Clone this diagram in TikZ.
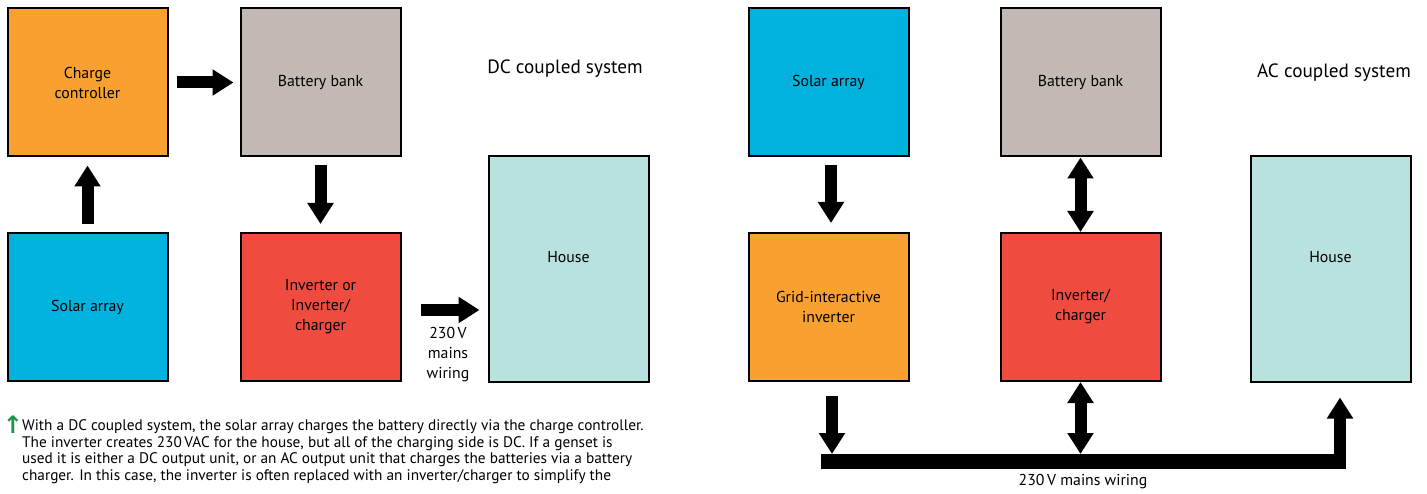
\documentclass[tikz,border=0pt]{standalone}
\usepackage{fontspec}
\setmainfont{PT Sans}
\newfontfamily\symfont{DejaVu Sans}
\usetikzlibrary{arrows.meta}
\definecolor{cOrange}{RGB}{248,160,48}
\definecolor{cGrey}{RGB}{194,185,181}
\definecolor{cRed}{RGB}{239,76,63}
\definecolor{cBlue}{RGB}{0,178,222}
\definecolor{cHouse}{RGB}{185,225,222}
\definecolor{cGreen}{RGB}{26,150,80}
\tikzset{
  box/.style={draw=black, line width=2pt, minimum width=160pt, minimum height=148pt, inner sep=0pt, align=center, font=\fontsize{15.8}{20}\selectfont},
  tallbox/.style={box, minimum height=225pt},
  bigarrow/.style={line width=12pt, -{Triangle[width=25pt,length=21pt]}},
  dblarrow/.style={line width=12pt, {Triangle[width=25pt,length=21pt]}-{Triangle[width=25pt,length=21pt]}},
  lbl/.style={font=\fontsize{15.8}{20}\selectfont, align=center, inner sep=0pt},
  titletext/.style={font=\fontsize{19.2}{22}\selectfont, inner sep=0pt},
  captext/.style={font=\fontsize{15.3}{16.5}\selectfont, align=left, inner sep=0pt, anchor=north west}
}
\begin{document}
\begin{tikzpicture}[x=1pt,y=-1pt]
\useasboundingbox[fill=white] (0,0) rectangle (1427,494);
% DC coupled
\node[box, fill=cOrange] (cc) at (87.5,82.5) {Charge\\controller};
\node[box, fill=cGrey] (bb1) at (320.5,82.5) {Battery bank};
\node[box, fill=cBlue] (sa1) at (87.5,307) {Solar array};
\node[box, fill=cRed] (inv1) at (320.5,307) {Inverter or\\Inverter/\\charger};
\node[tallbox, fill=cHouse] (h1) at (568.5,269) {};
\node[lbl] (h1l) at (568.5,257) {House};
\node[titletext] (dct) at (565,69) {DC coupled system};
\draw[bigarrow] ([xshift=8]cc.east) -- ([xshift=-6]bb1.west);
\draw[bigarrow] ([yshift=8]sa1.north) -- ([yshift=-8]cc.south);
\draw[bigarrow] ([yshift=-8]bb1.south) -- ([yshift=8]inv1.north);
\draw[bigarrow] ([xshift=19,yshift=-3]inv1.east) -- ([xshift=-8,yshift=-3]inv1.east -| h1.west);
\node[lbl] (mw1) at (448,355) {230\,V\\mains\\wiring};
% AC coupled
\node[box, fill=cBlue] (sa2) at (828.5,82.5) {Solar array};
\node[box, fill=cGrey] (bb2) at (1080.5,82.5) {Battery bank};
\node[box, fill=cOrange] (gi) at (828.5,307) {Grid-interactive\\inverter};
\node[box, fill=cRed] (inv2) at (1080.5,307) {Inverter/\\charger};
\node[tallbox, fill=cHouse] (h2) at (1330.5,269) {};
\node[lbl] (h2l) at (1330.5,257) {House};
\node[titletext] (act) at (1334,73) {AC coupled system};
\draw[bigarrow] ([xshift=2.5,yshift=-8]sa2.south) -- ([xshift=2.5,yshift=9]gi.north);
\draw[dblarrow] (bb2.south) -- (inv2.north);
\coordinate (barL) at (821,461.5);
\coordinate (barR) at (1346,461.5);
\draw[line width=15pt] (barL) -- (barR);
\draw[bigarrow] ([xshift=3.5,yshift=-14]gi.south) -- ([xshift=3.5,yshift=7.5]gi.south |- barL);
\draw[dblarrow] (inv2.south) -- ([yshift=7.5]inv2.south |- barL);
\draw[bigarrow] ([xshift=9.5]h2.south |- barR) -- ([xshift=9.5,yshift=-15]h2.south);
\node[lbl] (mw2) at (1083,482) {230\,V mains wiring};
% caption
\node[font=\symfont\bfseries\fontsize{24}{24}\selectfont, text=cGreen, inner sep=0pt] (ga) at (13,425) {↑};
\node[captext] (caption) at (22,419.5) {With a DC coupled system, the solar array charges the battery directly via the charge controller.\\
The inverter creates 230\,VAC for the house, but all of the charging side is DC. If a genset is\\
used it is either a DC output unit, or an AC output unit that charges the batteries via a battery\\
charger. In this case, the inverter is often replaced with an inverter/charger to simplify the};
\end{tikzpicture}
\end{document}
